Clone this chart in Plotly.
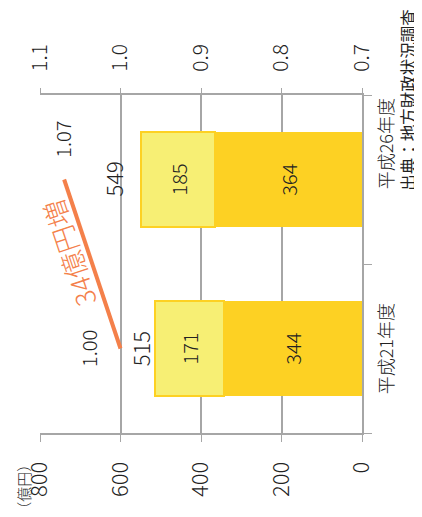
import plotly.graph_objects as go

# data
categories = ["平成21年度", "平成26年度"]
base_values = [344, 364]
added_values = [171, 185]
totals = [515, 549]
ratio = [1.00, 1.07]
value_ticks = [0, 200, 400, 600, 800]
ratio_ticks = [0.7, 0.8, 0.9, 1.0, 1.1]

dark = "#FDD123"
light = "#F7EF74"
orange = "#F4804A"
grey = "#A6A6A6"
font = "Noto Sans CJK JP"

fig = go.Figure()
fig.add_bar(y=categories, x=base_values, orientation="h",
            marker=dict(color=dark, line=dict(width=0)),
            text=base_values, textposition="inside", insidetextanchor="middle",
            textangle=-90, textfont=dict(size=20, color="#222", weight=300))
fig.add_bar(y=categories, x=added_values, orientation="h",
            marker=dict(color=light, line=dict(color=dark, width=2)),
            text=added_values, textposition="inside", insidetextanchor="middle",
            textangle=-90, textfont=dict(size=20, color="#222", weight=300))
fig.add_scatter(x=ratio, y=categories, xaxis="x2", mode="lines",
                line=dict(color=orange, width=4), hoverinfo="skip")

txt = dict(color="#222", weight=300)
c = dict(showarrow=False, xanchor="center", yanchor="middle", textangle=-90)
ann = []
# totals
for cat, t, sh in zip(categories, totals, [-15, -29]):
    ann.append(dict(x=t, y=cat, xref="x", yref="y", text=str(t), xshift=sh,
                    font=dict(size=22, **txt), **c))
# ratio labels
ann.append(dict(x=ratio[0], y=categories[0], xref="x2", yref="y", text="1.00",
                xshift=-32, font=dict(size=20, **txt), **c))
ann.append(dict(x=ratio[1], y=categories[1], xref="x2", yref="y", text="1.07",
                xshift=-2, yshift=40, font=dict(size=20, **txt), **c))
# increase note
ann.append(dict(x=(ratio[0] + ratio[1]) / 2, y=0.5, xref="x2", yref="y", text="34億円増",
                showarrow=False, xanchor="center", yanchor="middle", textangle=-108.5,
                xshift=-24, yshift=11, font=dict(size=27, color=orange, weight=300)))
# category labels
for cat, sh in zip(categories, [0, 36]):
    ann.append(dict(x=1.071, y=cat, xref="paper", yref="y", text=cat, yshift=sh,
                    font=dict(size=18, **txt), **c))
ann.append(dict(x=1.142, y=0.985, xref="paper", yref="paper", text="出典：地方財政状況調査",
                font=dict(size=16.5, color="#222", weight=400), **c))
ann.append(dict(x=-0.054, y=-0.16, xref="paper", yref="paper", text="（億円）",
                font=dict(size=15, **txt), **c))

# page body has an 8px margin, so the figure is shifted to compensate
fig.update_layout(
    width=414, height=509,
    margin=dict(l=32, r=60, t=87, b=84, autoexpand=False),
    barmode="stack", bargap=0.435,
    showlegend=False,
    plot_bgcolor="white", paper_bgcolor="white",
    font=dict(family=font, color="#222", weight=300),
    xaxis=dict(range=[800, 0], tickvals=value_ticks, showgrid=True, gridcolor=grey,
               gridwidth=1.5, zeroline=False, showline=True, linecolor=grey, linewidth=2,
               ticks="outside", ticklen=7, tickcolor=grey, tickangle=-90, automargin=False,
               ticklabelstandoff=11, tickfont=dict(size=22, weight=300)),
    xaxis2=dict(overlaying="x", side="top", range=[1.1, 0.7], tickvals=ratio_ticks,
                tickformat=".1f", showgrid=False, zeroline=False, showline=True,
                linecolor=grey, linewidth=2, ticks="outside", ticklen=5, tickcolor=grey,
                tickangle=-90, ticklabelstandoff=12, automargin=False,
                tickfont=dict(size=21, weight=300)),
    yaxis=dict(side="right", showline=True, linecolor=grey, linewidth=2, ticks="outside",
               tickson="boundaries", ticklen=8, tickcolor=grey, showticklabels=False,
               showgrid=False, range=[-0.5, 1.5], automargin=False),
    annotations=ann,
)

fig.write_html("out.html")
